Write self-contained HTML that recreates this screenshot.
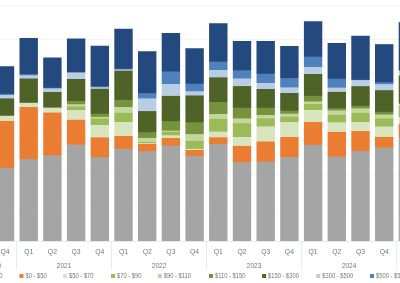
<!DOCTYPE html>
<html><head><meta charset="utf-8"><style>
html,body{margin:0;padding:0;background:#fff;}
body{width:400px;height:283px;overflow:hidden;}
svg{display:block;position:absolute;left:0;top:0;}
svg.t{filter:grayscale(1);}
text{font-family:"Liberation Sans",sans-serif;fill:#777777;}
</style></head><body>
<svg width="400" height="283" viewBox="0 0 400 283">

<rect x="0" y="5.45" width="400" height="1" fill="#f1f4f9"/>
<rect x="0" y="39.13" width="400" height="1" fill="#f1f4f9"/>
<rect x="0" y="72.81" width="400" height="1" fill="#f1f4f9"/>
<rect x="0" y="106.49" width="400" height="1" fill="#f1f4f9"/>
<rect x="0" y="140.17" width="400" height="1" fill="#f1f4f9"/>
<rect x="0" y="173.85" width="400" height="1" fill="#f1f4f9"/>
<rect x="0" y="207.53" width="400" height="1" fill="#f1f4f9"/>
<linearGradient id="g0" gradientUnits="userSpaceOnUse" x1="0" y1="0" x2="0" y2="283"><stop offset="0.000000" stop-color="#23497e"/><stop offset="0.328622" stop-color="#23497e"/><stop offset="0.328622" stop-color="#2c548b"/><stop offset="0.332155" stop-color="#2c548b"/><stop offset="0.332155" stop-color="#4f81bd"/><stop offset="0.335689" stop-color="#4f81bd"/><stop offset="0.335689" stop-color="#b9cde5"/><stop offset="0.339223" stop-color="#b9cde5"/><stop offset="0.339223" stop-color="#b9cde5"/><stop offset="0.346290" stop-color="#b9cde5"/><stop offset="0.346290" stop-color="#798d74"/><stop offset="0.349823" stop-color="#798d74"/><stop offset="0.349823" stop-color="#4f6228"/><stop offset="0.406360" stop-color="#4f6228"/><stop offset="0.406360" stop-color="#6e8838"/><stop offset="0.409894" stop-color="#6e8838"/><stop offset="0.409894" stop-color="#76923c"/><stop offset="0.406360" stop-color="#76923c"/><stop offset="0.406360" stop-color="#89a256"/><stop offset="0.409894" stop-color="#89a256"/><stop offset="0.409894" stop-color="#d7e4bd"/><stop offset="0.424028" stop-color="#d7e4bd"/><stop offset="0.424028" stop-color="#d9daaf"/><stop offset="0.427562" stop-color="#d9daaf"/><stop offset="0.427562" stop-color="#eb7d32"/><stop offset="0.590106" stop-color="#eb7d32"/><stop offset="0.590106" stop-color="#dd8549"/><stop offset="0.593640" stop-color="#dd8549"/><stop offset="0.593640" stop-color="#a5a5a5"/><stop offset="1.000000" stop-color="#a5a5a5"/></linearGradient>
<rect x="-4.20" y="66.25" width="18.4" height="174.95" fill="url(#g0)"/>
<linearGradient id="g1" gradientUnits="userSpaceOnUse" x1="0" y1="0" x2="0" y2="283"><stop offset="0.000000" stop-color="#23497e"/><stop offset="0.261484" stop-color="#23497e"/><stop offset="0.261484" stop-color="#4676b0"/><stop offset="0.265018" stop-color="#4676b0"/><stop offset="0.265018" stop-color="#4f81bd"/><stop offset="0.265018" stop-color="#4f81bd"/><stop offset="0.265018" stop-color="#99b6d9"/><stop offset="0.268551" stop-color="#99b6d9"/><stop offset="0.268551" stop-color="#b9cde5"/><stop offset="0.275618" stop-color="#b9cde5"/><stop offset="0.275618" stop-color="#849886"/><stop offset="0.279152" stop-color="#849886"/><stop offset="0.279152" stop-color="#4f6228"/><stop offset="0.360424" stop-color="#4f6228"/><stop offset="0.360424" stop-color="#6a7c46"/><stop offset="0.363958" stop-color="#6a7c46"/><stop offset="0.363958" stop-color="#d7e4bd"/><stop offset="0.378092" stop-color="#d7e4bd"/><stop offset="0.378092" stop-color="#eb7d32"/><stop offset="0.381625" stop-color="#eb7d32"/><stop offset="0.381625" stop-color="#eb7d32"/><stop offset="0.561837" stop-color="#eb7d32"/><stop offset="0.561837" stop-color="#b39d8e"/><stop offset="0.565371" stop-color="#b39d8e"/><stop offset="0.565371" stop-color="#a5a5a5"/><stop offset="1.000000" stop-color="#a5a5a5"/></linearGradient>
<rect x="19.50" y="38.00" width="18.4" height="203.20" fill="url(#g1)"/>
<linearGradient id="g2" gradientUnits="userSpaceOnUse" x1="0" y1="0" x2="0" y2="283"><stop offset="0.000000" stop-color="#23497e"/><stop offset="0.307420" stop-color="#23497e"/><stop offset="0.307420" stop-color="#2c548b"/><stop offset="0.310954" stop-color="#2c548b"/><stop offset="0.310954" stop-color="#4f81bd"/><stop offset="0.310954" stop-color="#4f81bd"/><stop offset="0.310954" stop-color="#8fafd5"/><stop offset="0.314488" stop-color="#8fafd5"/><stop offset="0.314488" stop-color="#b9cde5"/><stop offset="0.325088" stop-color="#b9cde5"/><stop offset="0.325088" stop-color="#4f6228"/><stop offset="0.328622" stop-color="#4f6228"/><stop offset="0.328622" stop-color="#4f6228"/><stop offset="0.378092" stop-color="#4f6228"/><stop offset="0.378092" stop-color="#859664"/><stop offset="0.381625" stop-color="#859664"/><stop offset="0.381625" stop-color="#d7e4bd"/><stop offset="0.395760" stop-color="#d7e4bd"/><stop offset="0.395760" stop-color="#dfbb85"/><stop offset="0.399293" stop-color="#dfbb85"/><stop offset="0.399293" stop-color="#eb7d32"/><stop offset="0.547703" stop-color="#eb7d32"/><stop offset="0.547703" stop-color="#ba9982"/><stop offset="0.551237" stop-color="#ba9982"/><stop offset="0.551237" stop-color="#a5a5a5"/><stop offset="1.000000" stop-color="#a5a5a5"/></linearGradient>
<rect x="43.20" y="57.50" width="18.4" height="183.70" fill="url(#g2)"/>
<linearGradient id="g3" gradientUnits="userSpaceOnUse" x1="0" y1="0" x2="0" y2="283"><stop offset="0.000000" stop-color="#23497e"/><stop offset="0.254417" stop-color="#23497e"/><stop offset="0.254417" stop-color="#7d98bc"/><stop offset="0.257951" stop-color="#7d98bc"/><stop offset="0.257951" stop-color="#b9cde5"/><stop offset="0.279152" stop-color="#b9cde5"/><stop offset="0.279152" stop-color="#4f6228"/><stop offset="0.282686" stop-color="#4f6228"/><stop offset="0.282686" stop-color="#4f6228"/><stop offset="0.356890" stop-color="#4f6228"/><stop offset="0.356890" stop-color="#76923c"/><stop offset="0.360424" stop-color="#76923c"/><stop offset="0.360424" stop-color="#76923c"/><stop offset="0.367491" stop-color="#76923c"/><stop offset="0.367491" stop-color="#b4c888"/><stop offset="0.371025" stop-color="#b4c888"/><stop offset="0.371025" stop-color="#c3d69b"/><stop offset="0.374558" stop-color="#c3d69b"/><stop offset="0.374558" stop-color="#afc87a"/><stop offset="0.378092" stop-color="#afc87a"/><stop offset="0.378092" stop-color="#9bbb59"/><stop offset="0.388693" stop-color="#9bbb59"/><stop offset="0.388693" stop-color="#d7e4bd"/><stop offset="0.392226" stop-color="#d7e4bd"/><stop offset="0.392226" stop-color="#d7e4bd"/><stop offset="0.420495" stop-color="#d7e4bd"/><stop offset="0.420495" stop-color="#dbcfa1"/><stop offset="0.424028" stop-color="#dbcfa1"/><stop offset="0.424028" stop-color="#eb7d32"/><stop offset="0.508834" stop-color="#eb7d32"/><stop offset="0.508834" stop-color="#c8916c"/><stop offset="0.512367" stop-color="#c8916c"/><stop offset="0.512367" stop-color="#a5a5a5"/><stop offset="1.000000" stop-color="#a5a5a5"/></linearGradient>
<rect x="66.90" y="38.50" width="18.4" height="202.70" fill="url(#g3)"/>
<linearGradient id="g4" gradientUnits="userSpaceOnUse" x1="0" y1="0" x2="0" y2="283"><stop offset="0.000000" stop-color="#23497e"/><stop offset="0.303887" stop-color="#23497e"/><stop offset="0.303887" stop-color="#3d6ba4"/><stop offset="0.307420" stop-color="#3d6ba4"/><stop offset="0.307420" stop-color="#4f81bd"/><stop offset="0.307420" stop-color="#4f81bd"/><stop offset="0.307420" stop-color="#a4bedd"/><stop offset="0.310954" stop-color="#a4bedd"/><stop offset="0.310954" stop-color="#b9cde5"/><stop offset="0.310954" stop-color="#b9cde5"/><stop offset="0.310954" stop-color="#a4b8bf"/><stop offset="0.314488" stop-color="#a4b8bf"/><stop offset="0.314488" stop-color="#4f6228"/><stop offset="0.399293" stop-color="#4f6228"/><stop offset="0.399293" stop-color="#576c2c"/><stop offset="0.402827" stop-color="#576c2c"/><stop offset="0.402827" stop-color="#76923c"/><stop offset="0.409894" stop-color="#76923c"/><stop offset="0.409894" stop-color="#7e9945"/><stop offset="0.413428" stop-color="#7e9945"/><stop offset="0.413428" stop-color="#c3d69b"/><stop offset="0.416961" stop-color="#c3d69b"/><stop offset="0.416961" stop-color="#b3cb81"/><stop offset="0.420495" stop-color="#b3cb81"/><stop offset="0.420495" stop-color="#9bbb59"/><stop offset="0.441696" stop-color="#9bbb59"/><stop offset="0.441696" stop-color="#d7e4bd"/><stop offset="0.445230" stop-color="#d7e4bd"/><stop offset="0.445230" stop-color="#d7e4bd"/><stop offset="0.484099" stop-color="#d7e4bd"/><stop offset="0.484099" stop-color="#e3a66a"/><stop offset="0.487633" stop-color="#e3a66a"/><stop offset="0.487633" stop-color="#eb7d32"/><stop offset="0.554770" stop-color="#eb7d32"/><stop offset="0.554770" stop-color="#b39d8e"/><stop offset="0.558304" stop-color="#b39d8e"/><stop offset="0.558304" stop-color="#a5a5a5"/><stop offset="1.000000" stop-color="#a5a5a5"/></linearGradient>
<rect x="90.60" y="45.75" width="18.4" height="195.45" fill="url(#g4)"/>
<linearGradient id="g5" gradientUnits="userSpaceOnUse" x1="0" y1="0" x2="0" y2="283"><stop offset="0.000000" stop-color="#23497e"/><stop offset="0.240283" stop-color="#23497e"/><stop offset="0.240283" stop-color="#2e578e"/><stop offset="0.243816" stop-color="#2e578e"/><stop offset="0.243816" stop-color="#4f81bd"/><stop offset="0.243816" stop-color="#4f81bd"/><stop offset="0.243816" stop-color="#84a7d1"/><stop offset="0.247350" stop-color="#84a7d1"/><stop offset="0.247350" stop-color="#b9cde5"/><stop offset="0.247350" stop-color="#b9cde5"/><stop offset="0.247350" stop-color="#9eb2b6"/><stop offset="0.250883" stop-color="#9eb2b6"/><stop offset="0.250883" stop-color="#4f6228"/><stop offset="0.349823" stop-color="#4f6228"/><stop offset="0.349823" stop-color="#53672a"/><stop offset="0.353357" stop-color="#53672a"/><stop offset="0.353357" stop-color="#76923c"/><stop offset="0.378092" stop-color="#76923c"/><stop offset="0.378092" stop-color="#c3d69b"/><stop offset="0.381625" stop-color="#c3d69b"/><stop offset="0.381625" stop-color="#c3d69b"/><stop offset="0.395760" stop-color="#c3d69b"/><stop offset="0.395760" stop-color="#bfd394"/><stop offset="0.399293" stop-color="#bfd394"/><stop offset="0.399293" stop-color="#9bbb59"/><stop offset="0.431095" stop-color="#9bbb59"/><stop offset="0.431095" stop-color="#d7e4bd"/><stop offset="0.434629" stop-color="#d7e4bd"/><stop offset="0.434629" stop-color="#d7e4bd"/><stop offset="0.480565" stop-color="#d7e4bd"/><stop offset="0.480565" stop-color="#eb7d32"/><stop offset="0.484099" stop-color="#eb7d32"/><stop offset="0.484099" stop-color="#eb7d32"/><stop offset="0.522968" stop-color="#eb7d32"/><stop offset="0.522968" stop-color="#da874f"/><stop offset="0.526502" stop-color="#da874f"/><stop offset="0.526502" stop-color="#a5a5a5"/><stop offset="1.000000" stop-color="#a5a5a5"/></linearGradient>
<rect x="114.30" y="28.75" width="18.4" height="212.45" fill="url(#g5)"/>
<linearGradient id="g6" gradientUnits="userSpaceOnUse" x1="0" y1="0" x2="0" y2="283"><stop offset="0.000000" stop-color="#23497e"/><stop offset="0.328622" stop-color="#23497e"/><stop offset="0.328622" stop-color="#4676b0"/><stop offset="0.332155" stop-color="#4676b0"/><stop offset="0.332155" stop-color="#4f81bd"/><stop offset="0.346290" stop-color="#4f81bd"/><stop offset="0.346290" stop-color="#8fafd5"/><stop offset="0.349823" stop-color="#8fafd5"/><stop offset="0.349823" stop-color="#b9cde5"/><stop offset="0.392226" stop-color="#b9cde5"/><stop offset="0.392226" stop-color="#5a6d3b"/><stop offset="0.395760" stop-color="#5a6d3b"/><stop offset="0.395760" stop-color="#4f6228"/><stop offset="0.466431" stop-color="#4f6228"/><stop offset="0.466431" stop-color="#6e8838"/><stop offset="0.469965" stop-color="#6e8838"/><stop offset="0.469965" stop-color="#76923c"/><stop offset="0.484099" stop-color="#76923c"/><stop offset="0.484099" stop-color="#7e9945"/><stop offset="0.487633" stop-color="#7e9945"/><stop offset="0.487633" stop-color="#c3d69b"/><stop offset="0.501767" stop-color="#c3d69b"/><stop offset="0.501767" stop-color="#9bbb59"/><stop offset="0.505300" stop-color="#9bbb59"/><stop offset="0.505300" stop-color="#9bbb59"/><stop offset="0.501767" stop-color="#9bbb59"/><stop offset="0.501767" stop-color="#a7c36d"/><stop offset="0.505300" stop-color="#a7c36d"/><stop offset="0.505300" stop-color="#d7e4bd"/><stop offset="0.505300" stop-color="#d7e4bd"/><stop offset="0.505300" stop-color="#d9daaf"/><stop offset="0.508834" stop-color="#d9daaf"/><stop offset="0.508834" stop-color="#eb7d32"/><stop offset="0.533569" stop-color="#eb7d32"/><stop offset="0.533569" stop-color="#a5a5a5"/><stop offset="0.537102" stop-color="#a5a5a5"/><stop offset="0.537102" stop-color="#a5a5a5"/><stop offset="1.000000" stop-color="#a5a5a5"/></linearGradient>
<rect x="138.00" y="51.25" width="18.4" height="189.95" fill="url(#g6)"/>
<linearGradient id="g7" gradientUnits="userSpaceOnUse" x1="0" y1="0" x2="0" y2="283"><stop offset="0.000000" stop-color="#23497e"/><stop offset="0.250883" stop-color="#23497e"/><stop offset="0.250883" stop-color="#39659e"/><stop offset="0.254417" stop-color="#39659e"/><stop offset="0.254417" stop-color="#4f81bd"/><stop offset="0.296820" stop-color="#4f81bd"/><stop offset="0.296820" stop-color="#b9cde5"/><stop offset="0.300353" stop-color="#b9cde5"/><stop offset="0.300353" stop-color="#b9cde5"/><stop offset="0.335689" stop-color="#b9cde5"/><stop offset="0.335689" stop-color="#aec2d2"/><stop offset="0.339223" stop-color="#aec2d2"/><stop offset="0.339223" stop-color="#4f6228"/><stop offset="0.427562" stop-color="#4f6228"/><stop offset="0.427562" stop-color="#728d3a"/><stop offset="0.431095" stop-color="#728d3a"/><stop offset="0.431095" stop-color="#76923c"/><stop offset="0.459364" stop-color="#76923c"/><stop offset="0.459364" stop-color="#95ad62"/><stop offset="0.462898" stop-color="#95ad62"/><stop offset="0.462898" stop-color="#c3d69b"/><stop offset="0.462898" stop-color="#c3d69b"/><stop offset="0.462898" stop-color="#bbd18e"/><stop offset="0.466431" stop-color="#bbd18e"/><stop offset="0.466431" stop-color="#9bbb59"/><stop offset="0.477032" stop-color="#9bbb59"/><stop offset="0.477032" stop-color="#c5d89f"/><stop offset="0.480565" stop-color="#c5d89f"/><stop offset="0.480565" stop-color="#d7e4bd"/><stop offset="0.487633" stop-color="#d7e4bd"/><stop offset="0.487633" stop-color="#eb7d32"/><stop offset="0.491166" stop-color="#eb7d32"/><stop offset="0.491166" stop-color="#eb7d32"/><stop offset="0.512367" stop-color="#eb7d32"/><stop offset="0.512367" stop-color="#cf8d60"/><stop offset="0.515901" stop-color="#cf8d60"/><stop offset="0.515901" stop-color="#a5a5a5"/><stop offset="1.000000" stop-color="#a5a5a5"/></linearGradient>
<rect x="161.70" y="33.00" width="18.4" height="208.20" fill="url(#g7)"/>
<linearGradient id="g8" gradientUnits="userSpaceOnUse" x1="0" y1="0" x2="0" y2="283"><stop offset="0.000000" stop-color="#23497e"/><stop offset="0.293286" stop-color="#23497e"/><stop offset="0.293286" stop-color="#2e578e"/><stop offset="0.296820" stop-color="#2e578e"/><stop offset="0.296820" stop-color="#4f81bd"/><stop offset="0.321555" stop-color="#4f81bd"/><stop offset="0.321555" stop-color="#9ebadb"/><stop offset="0.325088" stop-color="#9ebadb"/><stop offset="0.325088" stop-color="#b9cde5"/><stop offset="0.335689" stop-color="#b9cde5"/><stop offset="0.335689" stop-color="#849886"/><stop offset="0.339223" stop-color="#849886"/><stop offset="0.339223" stop-color="#4f6228"/><stop offset="0.431095" stop-color="#4f6228"/><stop offset="0.431095" stop-color="#6a8436"/><stop offset="0.434629" stop-color="#6a8436"/><stop offset="0.434629" stop-color="#76923c"/><stop offset="0.473498" stop-color="#76923c"/><stop offset="0.473498" stop-color="#bbcf92"/><stop offset="0.477032" stop-color="#bbcf92"/><stop offset="0.477032" stop-color="#c3d69b"/><stop offset="0.494700" stop-color="#c3d69b"/><stop offset="0.494700" stop-color="#bfd394"/><stop offset="0.498233" stop-color="#bfd394"/><stop offset="0.498233" stop-color="#9bbb59"/><stop offset="0.522968" stop-color="#9bbb59"/><stop offset="0.522968" stop-color="#a1bf63"/><stop offset="0.526502" stop-color="#a1bf63"/><stop offset="0.526502" stop-color="#d7e4bd"/><stop offset="0.530035" stop-color="#d7e4bd"/><stop offset="0.530035" stop-color="#eb7d32"/><stop offset="0.533569" stop-color="#eb7d32"/><stop offset="0.533569" stop-color="#eb7d32"/><stop offset="0.547703" stop-color="#eb7d32"/><stop offset="0.547703" stop-color="#e4813d"/><stop offset="0.551237" stop-color="#e4813d"/><stop offset="0.551237" stop-color="#a5a5a5"/><stop offset="1.000000" stop-color="#a5a5a5"/></linearGradient>
<rect x="185.40" y="48.25" width="18.4" height="192.95" fill="url(#g8)"/>
<linearGradient id="g9" gradientUnits="userSpaceOnUse" x1="0" y1="0" x2="0" y2="283"><stop offset="0.000000" stop-color="#23497e"/><stop offset="0.215548" stop-color="#23497e"/><stop offset="0.215548" stop-color="#305a91"/><stop offset="0.219081" stop-color="#305a91"/><stop offset="0.219081" stop-color="#4f81bd"/><stop offset="0.247350" stop-color="#4f81bd"/><stop offset="0.247350" stop-color="#b9cde5"/><stop offset="0.250883" stop-color="#b9cde5"/><stop offset="0.250883" stop-color="#b9cde5"/><stop offset="0.272085" stop-color="#b9cde5"/><stop offset="0.272085" stop-color="#798d74"/><stop offset="0.275618" stop-color="#798d74"/><stop offset="0.275618" stop-color="#4f6228"/><stop offset="0.360424" stop-color="#4f6228"/><stop offset="0.360424" stop-color="#76923c"/><stop offset="0.363958" stop-color="#76923c"/><stop offset="0.363958" stop-color="#76923c"/><stop offset="0.402827" stop-color="#76923c"/><stop offset="0.402827" stop-color="#c3d69b"/><stop offset="0.406360" stop-color="#c3d69b"/><stop offset="0.406360" stop-color="#c3d69b"/><stop offset="0.416961" stop-color="#c3d69b"/><stop offset="0.416961" stop-color="#bfd394"/><stop offset="0.420495" stop-color="#bfd394"/><stop offset="0.420495" stop-color="#9bbb59"/><stop offset="0.462898" stop-color="#9bbb59"/><stop offset="0.462898" stop-color="#b3cb81"/><stop offset="0.466431" stop-color="#b3cb81"/><stop offset="0.466431" stop-color="#d7e4bd"/><stop offset="0.484099" stop-color="#d7e4bd"/><stop offset="0.484099" stop-color="#e59c5c"/><stop offset="0.487633" stop-color="#e59c5c"/><stop offset="0.487633" stop-color="#eb7d32"/><stop offset="0.508834" stop-color="#eb7d32"/><stop offset="0.508834" stop-color="#a5a5a5"/><stop offset="0.512367" stop-color="#a5a5a5"/><stop offset="0.512367" stop-color="#a5a5a5"/><stop offset="1.000000" stop-color="#a5a5a5"/></linearGradient>
<rect x="209.10" y="23.25" width="18.4" height="217.95" fill="url(#g9)"/>
<linearGradient id="g10" gradientUnits="userSpaceOnUse" x1="0" y1="0" x2="0" y2="283"><stop offset="0.000000" stop-color="#23497e"/><stop offset="0.247350" stop-color="#23497e"/><stop offset="0.247350" stop-color="#4270aa"/><stop offset="0.250883" stop-color="#4270aa"/><stop offset="0.250883" stop-color="#4f81bd"/><stop offset="0.275618" stop-color="#4f81bd"/><stop offset="0.275618" stop-color="#84a7d1"/><stop offset="0.279152" stop-color="#84a7d1"/><stop offset="0.279152" stop-color="#b9cde5"/><stop offset="0.303887" stop-color="#b9cde5"/><stop offset="0.303887" stop-color="#5a6d3b"/><stop offset="0.307420" stop-color="#5a6d3b"/><stop offset="0.307420" stop-color="#4f6228"/><stop offset="0.378092" stop-color="#4f6228"/><stop offset="0.378092" stop-color="#576c2c"/><stop offset="0.381625" stop-color="#576c2c"/><stop offset="0.381625" stop-color="#76923c"/><stop offset="0.416961" stop-color="#76923c"/><stop offset="0.416961" stop-color="#a4bb75"/><stop offset="0.420495" stop-color="#a4bb75"/><stop offset="0.420495" stop-color="#c3d69b"/><stop offset="0.434629" stop-color="#c3d69b"/><stop offset="0.434629" stop-color="#a7c36d"/><stop offset="0.438163" stop-color="#a7c36d"/><stop offset="0.438163" stop-color="#9bbb59"/><stop offset="0.484099" stop-color="#9bbb59"/><stop offset="0.484099" stop-color="#d7e4bd"/><stop offset="0.487633" stop-color="#d7e4bd"/><stop offset="0.487633" stop-color="#d7e4bd"/><stop offset="0.512367" stop-color="#d7e4bd"/><stop offset="0.512367" stop-color="#d9daaf"/><stop offset="0.515901" stop-color="#d9daaf"/><stop offset="0.515901" stop-color="#eb7d32"/><stop offset="0.572438" stop-color="#eb7d32"/><stop offset="0.572438" stop-color="#b39d8e"/><stop offset="0.575972" stop-color="#b39d8e"/><stop offset="0.575972" stop-color="#a5a5a5"/><stop offset="1.000000" stop-color="#a5a5a5"/></linearGradient>
<rect x="232.80" y="41.00" width="18.4" height="200.20" fill="url(#g10)"/>
<linearGradient id="g11" gradientUnits="userSpaceOnUse" x1="0" y1="0" x2="0" y2="283"><stop offset="0.000000" stop-color="#23497e"/><stop offset="0.257951" stop-color="#23497e"/><stop offset="0.257951" stop-color="#2e578e"/><stop offset="0.261484" stop-color="#2e578e"/><stop offset="0.261484" stop-color="#4f81bd"/><stop offset="0.293286" stop-color="#4f81bd"/><stop offset="0.293286" stop-color="#b9cde5"/><stop offset="0.296820" stop-color="#b9cde5"/><stop offset="0.296820" stop-color="#b9cde5"/><stop offset="0.314488" stop-color="#b9cde5"/><stop offset="0.314488" stop-color="#4f6228"/><stop offset="0.318021" stop-color="#4f6228"/><stop offset="0.318021" stop-color="#4f6228"/><stop offset="0.378092" stop-color="#4f6228"/><stop offset="0.378092" stop-color="#576c2c"/><stop offset="0.381625" stop-color="#576c2c"/><stop offset="0.381625" stop-color="#76923c"/><stop offset="0.406360" stop-color="#76923c"/><stop offset="0.406360" stop-color="#c3d69b"/><stop offset="0.409894" stop-color="#c3d69b"/><stop offset="0.409894" stop-color="#c3d69b"/><stop offset="0.416961" stop-color="#c3d69b"/><stop offset="0.416961" stop-color="#a7c36d"/><stop offset="0.420495" stop-color="#a7c36d"/><stop offset="0.420495" stop-color="#9bbb59"/><stop offset="0.445230" stop-color="#9bbb59"/><stop offset="0.445230" stop-color="#bfd495"/><stop offset="0.448763" stop-color="#bfd495"/><stop offset="0.448763" stop-color="#d7e4bd"/><stop offset="0.498233" stop-color="#d7e4bd"/><stop offset="0.498233" stop-color="#e1b078"/><stop offset="0.501767" stop-color="#e1b078"/><stop offset="0.501767" stop-color="#eb7d32"/><stop offset="0.568905" stop-color="#eb7d32"/><stop offset="0.568905" stop-color="#cf8d60"/><stop offset="0.572438" stop-color="#cf8d60"/><stop offset="0.572438" stop-color="#a5a5a5"/><stop offset="1.000000" stop-color="#a5a5a5"/></linearGradient>
<rect x="256.50" y="41.00" width="18.4" height="200.20" fill="url(#g11)"/>
<linearGradient id="g12" gradientUnits="userSpaceOnUse" x1="0" y1="0" x2="0" y2="283"><stop offset="0.000000" stop-color="#23497e"/><stop offset="0.275618" stop-color="#23497e"/><stop offset="0.275618" stop-color="#4b7bb7"/><stop offset="0.279152" stop-color="#4b7bb7"/><stop offset="0.279152" stop-color="#4f81bd"/><stop offset="0.307420" stop-color="#4f81bd"/><stop offset="0.307420" stop-color="#8fafd5"/><stop offset="0.310954" stop-color="#8fafd5"/><stop offset="0.310954" stop-color="#b9cde5"/><stop offset="0.328622" stop-color="#b9cde5"/><stop offset="0.328622" stop-color="#4f6228"/><stop offset="0.332155" stop-color="#4f6228"/><stop offset="0.332155" stop-color="#4f6228"/><stop offset="0.388693" stop-color="#4f6228"/><stop offset="0.388693" stop-color="#5b702e"/><stop offset="0.392226" stop-color="#5b702e"/><stop offset="0.392226" stop-color="#76923c"/><stop offset="0.399293" stop-color="#76923c"/><stop offset="0.399293" stop-color="#89a354"/><stop offset="0.402827" stop-color="#89a354"/><stop offset="0.402827" stop-color="#c3d69b"/><stop offset="0.409894" stop-color="#c3d69b"/><stop offset="0.409894" stop-color="#b9cf8a"/><stop offset="0.413428" stop-color="#b9cf8a"/><stop offset="0.413428" stop-color="#9bbb59"/><stop offset="0.431095" stop-color="#9bbb59"/><stop offset="0.431095" stop-color="#d7e4bd"/><stop offset="0.434629" stop-color="#d7e4bd"/><stop offset="0.434629" stop-color="#d7e4bd"/><stop offset="0.484099" stop-color="#d7e4bd"/><stop offset="0.484099" stop-color="#eb7d32"/><stop offset="0.487633" stop-color="#eb7d32"/><stop offset="0.487633" stop-color="#eb7d32"/><stop offset="0.554770" stop-color="#eb7d32"/><stop offset="0.554770" stop-color="#a5a5a5"/><stop offset="0.558304" stop-color="#a5a5a5"/><stop offset="0.558304" stop-color="#a5a5a5"/><stop offset="1.000000" stop-color="#a5a5a5"/></linearGradient>
<rect x="280.20" y="46.00" width="18.4" height="195.20" fill="url(#g12)"/>
<linearGradient id="g13" gradientUnits="userSpaceOnUse" x1="0" y1="0" x2="0" y2="283"><stop offset="0.000000" stop-color="#23497e"/><stop offset="0.197880" stop-color="#23497e"/><stop offset="0.197880" stop-color="#305a91"/><stop offset="0.201413" stop-color="#305a91"/><stop offset="0.201413" stop-color="#4f81bd"/><stop offset="0.236749" stop-color="#4f81bd"/><stop offset="0.236749" stop-color="#b9cde5"/><stop offset="0.240283" stop-color="#b9cde5"/><stop offset="0.240283" stop-color="#b9cde5"/><stop offset="0.261484" stop-color="#b9cde5"/><stop offset="0.261484" stop-color="#4f6228"/><stop offset="0.265018" stop-color="#4f6228"/><stop offset="0.265018" stop-color="#4f6228"/><stop offset="0.335689" stop-color="#4f6228"/><stop offset="0.335689" stop-color="#576c2c"/><stop offset="0.339223" stop-color="#576c2c"/><stop offset="0.339223" stop-color="#76923c"/><stop offset="0.356890" stop-color="#76923c"/><stop offset="0.356890" stop-color="#9cb46c"/><stop offset="0.360424" stop-color="#9cb46c"/><stop offset="0.360424" stop-color="#c3d69b"/><stop offset="0.367491" stop-color="#c3d69b"/><stop offset="0.367491" stop-color="#9bbb59"/><stop offset="0.371025" stop-color="#9bbb59"/><stop offset="0.371025" stop-color="#9bbb59"/><stop offset="0.388693" stop-color="#9bbb59"/><stop offset="0.388693" stop-color="#d7e4bd"/><stop offset="0.392226" stop-color="#d7e4bd"/><stop offset="0.392226" stop-color="#d7e4bd"/><stop offset="0.431095" stop-color="#d7e4bd"/><stop offset="0.431095" stop-color="#eb7d32"/><stop offset="0.434629" stop-color="#eb7d32"/><stop offset="0.434629" stop-color="#eb7d32"/><stop offset="0.508834" stop-color="#eb7d32"/><stop offset="0.508834" stop-color="#dd8549"/><stop offset="0.512367" stop-color="#dd8549"/><stop offset="0.512367" stop-color="#a5a5a5"/><stop offset="1.000000" stop-color="#a5a5a5"/></linearGradient>
<rect x="303.90" y="21.25" width="18.4" height="219.95" fill="url(#g13)"/>
<linearGradient id="g14" gradientUnits="userSpaceOnUse" x1="0" y1="0" x2="0" y2="283"><stop offset="0.000000" stop-color="#23497e"/><stop offset="0.275618" stop-color="#23497e"/><stop offset="0.275618" stop-color="#2e578e"/><stop offset="0.279152" stop-color="#2e578e"/><stop offset="0.279152" stop-color="#4f81bd"/><stop offset="0.307420" stop-color="#4f81bd"/><stop offset="0.307420" stop-color="#799fcd"/><stop offset="0.310954" stop-color="#799fcd"/><stop offset="0.310954" stop-color="#b9cde5"/><stop offset="0.321555" stop-color="#b9cde5"/><stop offset="0.321555" stop-color="#aec2d2"/><stop offset="0.325088" stop-color="#aec2d2"/><stop offset="0.325088" stop-color="#4f6228"/><stop offset="0.381625" stop-color="#4f6228"/><stop offset="0.381625" stop-color="#6e8838"/><stop offset="0.385159" stop-color="#6e8838"/><stop offset="0.385159" stop-color="#76923c"/><stop offset="0.388693" stop-color="#76923c"/><stop offset="0.388693" stop-color="#a4bb75"/><stop offset="0.392226" stop-color="#a4bb75"/><stop offset="0.392226" stop-color="#c3d69b"/><stop offset="0.402827" stop-color="#c3d69b"/><stop offset="0.402827" stop-color="#bbd18e"/><stop offset="0.406360" stop-color="#bbd18e"/><stop offset="0.406360" stop-color="#9bbb59"/><stop offset="0.431095" stop-color="#9bbb59"/><stop offset="0.431095" stop-color="#c5d89f"/><stop offset="0.434629" stop-color="#c5d89f"/><stop offset="0.434629" stop-color="#d7e4bd"/><stop offset="0.462898" stop-color="#d7e4bd"/><stop offset="0.462898" stop-color="#d9daaf"/><stop offset="0.466431" stop-color="#d9daaf"/><stop offset="0.466431" stop-color="#eb7d32"/><stop offset="0.551237" stop-color="#eb7d32"/><stop offset="0.551237" stop-color="#cf8d60"/><stop offset="0.554770" stop-color="#cf8d60"/><stop offset="0.554770" stop-color="#a5a5a5"/><stop offset="1.000000" stop-color="#a5a5a5"/></linearGradient>
<rect x="327.60" y="43.00" width="18.4" height="198.20" fill="url(#g14)"/>
<linearGradient id="g15" gradientUnits="userSpaceOnUse" x1="0" y1="0" x2="0" y2="283"><stop offset="0.000000" stop-color="#23497e"/><stop offset="0.279152" stop-color="#23497e"/><stop offset="0.279152" stop-color="#2c548b"/><stop offset="0.282686" stop-color="#2c548b"/><stop offset="0.282686" stop-color="#4f81bd"/><stop offset="0.282686" stop-color="#4f81bd"/><stop offset="0.282686" stop-color="#aec5e1"/><stop offset="0.286219" stop-color="#aec5e1"/><stop offset="0.286219" stop-color="#b9cde5"/><stop offset="0.303887" stop-color="#b9cde5"/><stop offset="0.303887" stop-color="#64774e"/><stop offset="0.307420" stop-color="#64774e"/><stop offset="0.307420" stop-color="#4f6228"/><stop offset="0.371025" stop-color="#4f6228"/><stop offset="0.371025" stop-color="#576c2c"/><stop offset="0.374558" stop-color="#576c2c"/><stop offset="0.374558" stop-color="#76923c"/><stop offset="0.381625" stop-color="#76923c"/><stop offset="0.381625" stop-color="#a4bb75"/><stop offset="0.385159" stop-color="#a4bb75"/><stop offset="0.385159" stop-color="#c3d69b"/><stop offset="0.395760" stop-color="#c3d69b"/><stop offset="0.395760" stop-color="#bbd18e"/><stop offset="0.399293" stop-color="#bbd18e"/><stop offset="0.399293" stop-color="#9bbb59"/><stop offset="0.431095" stop-color="#9bbb59"/><stop offset="0.431095" stop-color="#d7e4bd"/><stop offset="0.434629" stop-color="#d7e4bd"/><stop offset="0.434629" stop-color="#d7e4bd"/><stop offset="0.462898" stop-color="#d7e4bd"/><stop offset="0.462898" stop-color="#eb7d32"/><stop offset="0.466431" stop-color="#eb7d32"/><stop offset="0.466431" stop-color="#eb7d32"/><stop offset="0.533569" stop-color="#eb7d32"/><stop offset="0.533569" stop-color="#a5a5a5"/><stop offset="0.537102" stop-color="#a5a5a5"/><stop offset="0.537102" stop-color="#a5a5a5"/><stop offset="1.000000" stop-color="#a5a5a5"/></linearGradient>
<rect x="351.30" y="35.75" width="18.4" height="205.45" fill="url(#g15)"/>
<linearGradient id="g16" gradientUnits="userSpaceOnUse" x1="0" y1="0" x2="0" y2="283"><stop offset="0.000000" stop-color="#23497e"/><stop offset="0.289753" stop-color="#23497e"/><stop offset="0.289753" stop-color="#4270aa"/><stop offset="0.293286" stop-color="#4270aa"/><stop offset="0.293286" stop-color="#4f81bd"/><stop offset="0.296820" stop-color="#4f81bd"/><stop offset="0.296820" stop-color="#a4bedd"/><stop offset="0.300353" stop-color="#a4bedd"/><stop offset="0.300353" stop-color="#b9cde5"/><stop offset="0.318021" stop-color="#b9cde5"/><stop offset="0.318021" stop-color="#64774e"/><stop offset="0.321555" stop-color="#64774e"/><stop offset="0.321555" stop-color="#4f6228"/><stop offset="0.392226" stop-color="#4f6228"/><stop offset="0.392226" stop-color="#576c2c"/><stop offset="0.395760" stop-color="#576c2c"/><stop offset="0.395760" stop-color="#76923c"/><stop offset="0.402827" stop-color="#76923c"/><stop offset="0.402827" stop-color="#9cb46c"/><stop offset="0.406360" stop-color="#9cb46c"/><stop offset="0.406360" stop-color="#c3d69b"/><stop offset="0.416961" stop-color="#c3d69b"/><stop offset="0.416961" stop-color="#afc87a"/><stop offset="0.420495" stop-color="#afc87a"/><stop offset="0.420495" stop-color="#9bbb59"/><stop offset="0.445230" stop-color="#9bbb59"/><stop offset="0.445230" stop-color="#b9d08b"/><stop offset="0.448763" stop-color="#b9d08b"/><stop offset="0.448763" stop-color="#d7e4bd"/><stop offset="0.480565" stop-color="#d7e4bd"/><stop offset="0.480565" stop-color="#d9daaf"/><stop offset="0.484099" stop-color="#d9daaf"/><stop offset="0.484099" stop-color="#eb7d32"/><stop offset="0.519435" stop-color="#eb7d32"/><stop offset="0.519435" stop-color="#cf8d60"/><stop offset="0.522968" stop-color="#cf8d60"/><stop offset="0.522968" stop-color="#a5a5a5"/><stop offset="1.000000" stop-color="#a5a5a5"/></linearGradient>
<rect x="375.00" y="44.20" width="18.4" height="197.00" fill="url(#g16)"/>
<linearGradient id="g17" gradientUnits="userSpaceOnUse" x1="0" y1="0" x2="0" y2="283"><stop offset="0.000000" stop-color="#23497e"/><stop offset="0.247350" stop-color="#23497e"/><stop offset="0.247350" stop-color="#5f7ea7"/><stop offset="0.250883" stop-color="#5f7ea7"/><stop offset="0.250883" stop-color="#b9cde5"/><stop offset="0.265018" stop-color="#b9cde5"/><stop offset="0.265018" stop-color="#849886"/><stop offset="0.268551" stop-color="#849886"/><stop offset="0.268551" stop-color="#4f6228"/><stop offset="0.360424" stop-color="#4f6228"/><stop offset="0.360424" stop-color="#576c2c"/><stop offset="0.363958" stop-color="#576c2c"/><stop offset="0.363958" stop-color="#76923c"/><stop offset="0.367491" stop-color="#76923c"/><stop offset="0.367491" stop-color="#c3d69b"/><stop offset="0.371025" stop-color="#c3d69b"/><stop offset="0.371025" stop-color="#c3d69b"/><stop offset="0.371025" stop-color="#c3d69b"/><stop offset="0.371025" stop-color="#afc87a"/><stop offset="0.374558" stop-color="#afc87a"/><stop offset="0.374558" stop-color="#9bbb59"/><stop offset="0.413428" stop-color="#9bbb59"/><stop offset="0.413428" stop-color="#cbdca9"/><stop offset="0.416961" stop-color="#cbdca9"/><stop offset="0.416961" stop-color="#d7e4bd"/><stop offset="0.438163" stop-color="#d7e4bd"/><stop offset="0.438163" stop-color="#eb7d32"/><stop offset="0.441696" stop-color="#eb7d32"/><stop offset="0.441696" stop-color="#eb7d32"/><stop offset="0.484099" stop-color="#eb7d32"/><stop offset="0.484099" stop-color="#a5a5a5"/><stop offset="0.487633" stop-color="#a5a5a5"/><stop offset="0.487633" stop-color="#a5a5a5"/><stop offset="1.000000" stop-color="#a5a5a5"/></linearGradient>
<rect x="398.70" y="22.10" width="18.4" height="219.10" fill="url(#g17)"/>
<rect x="0" y="241" width="400" height="1" fill="#e6ebf3"/>
<rect x="16.00" y="241" width="1" height="28.5" fill="#e6ebf3"/>
<rect x="111.03" y="241" width="1" height="28.5" fill="#e6ebf3"/>
<rect x="206.06" y="241" width="1" height="28.5" fill="#e6ebf3"/>
<rect x="301.09" y="241" width="1" height="28.5" fill="#e6ebf3"/>
<rect x="396.12" y="241" width="1" height="28.5" fill="#e6ebf3"/>
<rect x="370.0" y="274" width="4" height="4" fill="#4f81bd"/>
<rect x="316.25" y="274" width="4" height="4" fill="#b9cde5"/>
<rect x="262.1" y="274" width="4" height="4" fill="#4f6228"/>
<rect x="209.0" y="274" width="4" height="4" fill="#76923c"/>
<rect x="157.8" y="274" width="4" height="4" fill="#c3d69b"/>
<rect x="111.0" y="274" width="4" height="4" fill="#9bbb59"/>
<rect x="63.1" y="274" width="4" height="4" fill="#d7e4bd"/>
<rect x="19.5" y="274" width="4" height="4" fill="#eb7d32"/>
</svg>
<svg class="t" width="400" height="283" viewBox="0 0 400 283">
<text x="5.00" y="254.0" font-size="6.8" text-anchor="middle">Q4</text>
<text x="28.70" y="254.0" font-size="6.8" text-anchor="middle">Q1</text>
<text x="52.40" y="254.0" font-size="6.8" text-anchor="middle">Q2</text>
<text x="76.10" y="254.0" font-size="6.8" text-anchor="middle">Q3</text>
<text x="99.80" y="254.0" font-size="6.8" text-anchor="middle">Q4</text>
<text x="123.50" y="254.0" font-size="6.8" text-anchor="middle">Q1</text>
<text x="147.20" y="254.0" font-size="6.8" text-anchor="middle">Q2</text>
<text x="170.90" y="254.0" font-size="6.8" text-anchor="middle">Q3</text>
<text x="194.60" y="254.0" font-size="6.8" text-anchor="middle">Q4</text>
<text x="218.30" y="254.0" font-size="6.8" text-anchor="middle">Q1</text>
<text x="242.00" y="254.0" font-size="6.8" text-anchor="middle">Q2</text>
<text x="265.70" y="254.0" font-size="6.8" text-anchor="middle">Q3</text>
<text x="289.40" y="254.0" font-size="6.8" text-anchor="middle">Q4</text>
<text x="313.10" y="254.0" font-size="6.8" text-anchor="middle">Q1</text>
<text x="336.80" y="254.0" font-size="6.8" text-anchor="middle">Q2</text>
<text x="360.50" y="254.0" font-size="6.8" text-anchor="middle">Q3</text>
<text x="384.20" y="254.0" font-size="6.8" text-anchor="middle">Q4</text>
<text x="407.90" y="254.0" font-size="6.8" text-anchor="middle">Q1</text>
<text transform="translate(1.1,267.6) scale(1,1.18)" x="0" y="0" font-size="6.5" text-anchor="end">2020</text>
<text transform="translate(64.02,267.6) scale(1,1.18)" x="0" y="0" font-size="6.5" text-anchor="middle">2021</text>
<text transform="translate(159.05,267.6) scale(1,1.18)" x="0" y="0" font-size="6.5" text-anchor="middle">2022</text>
<text transform="translate(254.07,267.6) scale(1,1.18)" x="0" y="0" font-size="6.5" text-anchor="middle">2023</text>
<text transform="translate(349.11,267.6) scale(1,1.18)" x="0" y="0" font-size="6.5" text-anchor="middle">2024</text>
<text transform="translate(444.13,267.6) scale(1,1.18)" x="0" y="0" font-size="6.5" text-anchor="middle">2025</text>
<text transform="translate(2.5,278.3) scale(1,1.1)" font-size="5.8" text-anchor="end">0</text>
<text transform="translate(25.50,278.3) scale(1,1.1)" font-size="5.8">$0 - $50</text>
<text transform="translate(69.10,278.3) scale(1,1.1)" font-size="5.8">$50 - $70</text>
<text transform="translate(117.00,278.3) scale(1,1.1)" font-size="5.8">$70 - $90</text>
<text transform="translate(163.80,278.3) scale(1,1.1)" font-size="5.8">$90 - $110</text>
<text transform="translate(215.00,278.3) scale(1,1.1)" font-size="5.8">$110 - $150</text>
<text transform="translate(268.10,278.3) scale(1,1.1)" font-size="5.8">$150 - $300</text>
<text transform="translate(322.25,278.3) scale(1,1.1)" font-size="5.8">$300 - $500</text>
<text transform="translate(376.00,278.3) scale(1,1.1)" font-size="5.8">$500 - $5000</text>
</svg></body></html>
